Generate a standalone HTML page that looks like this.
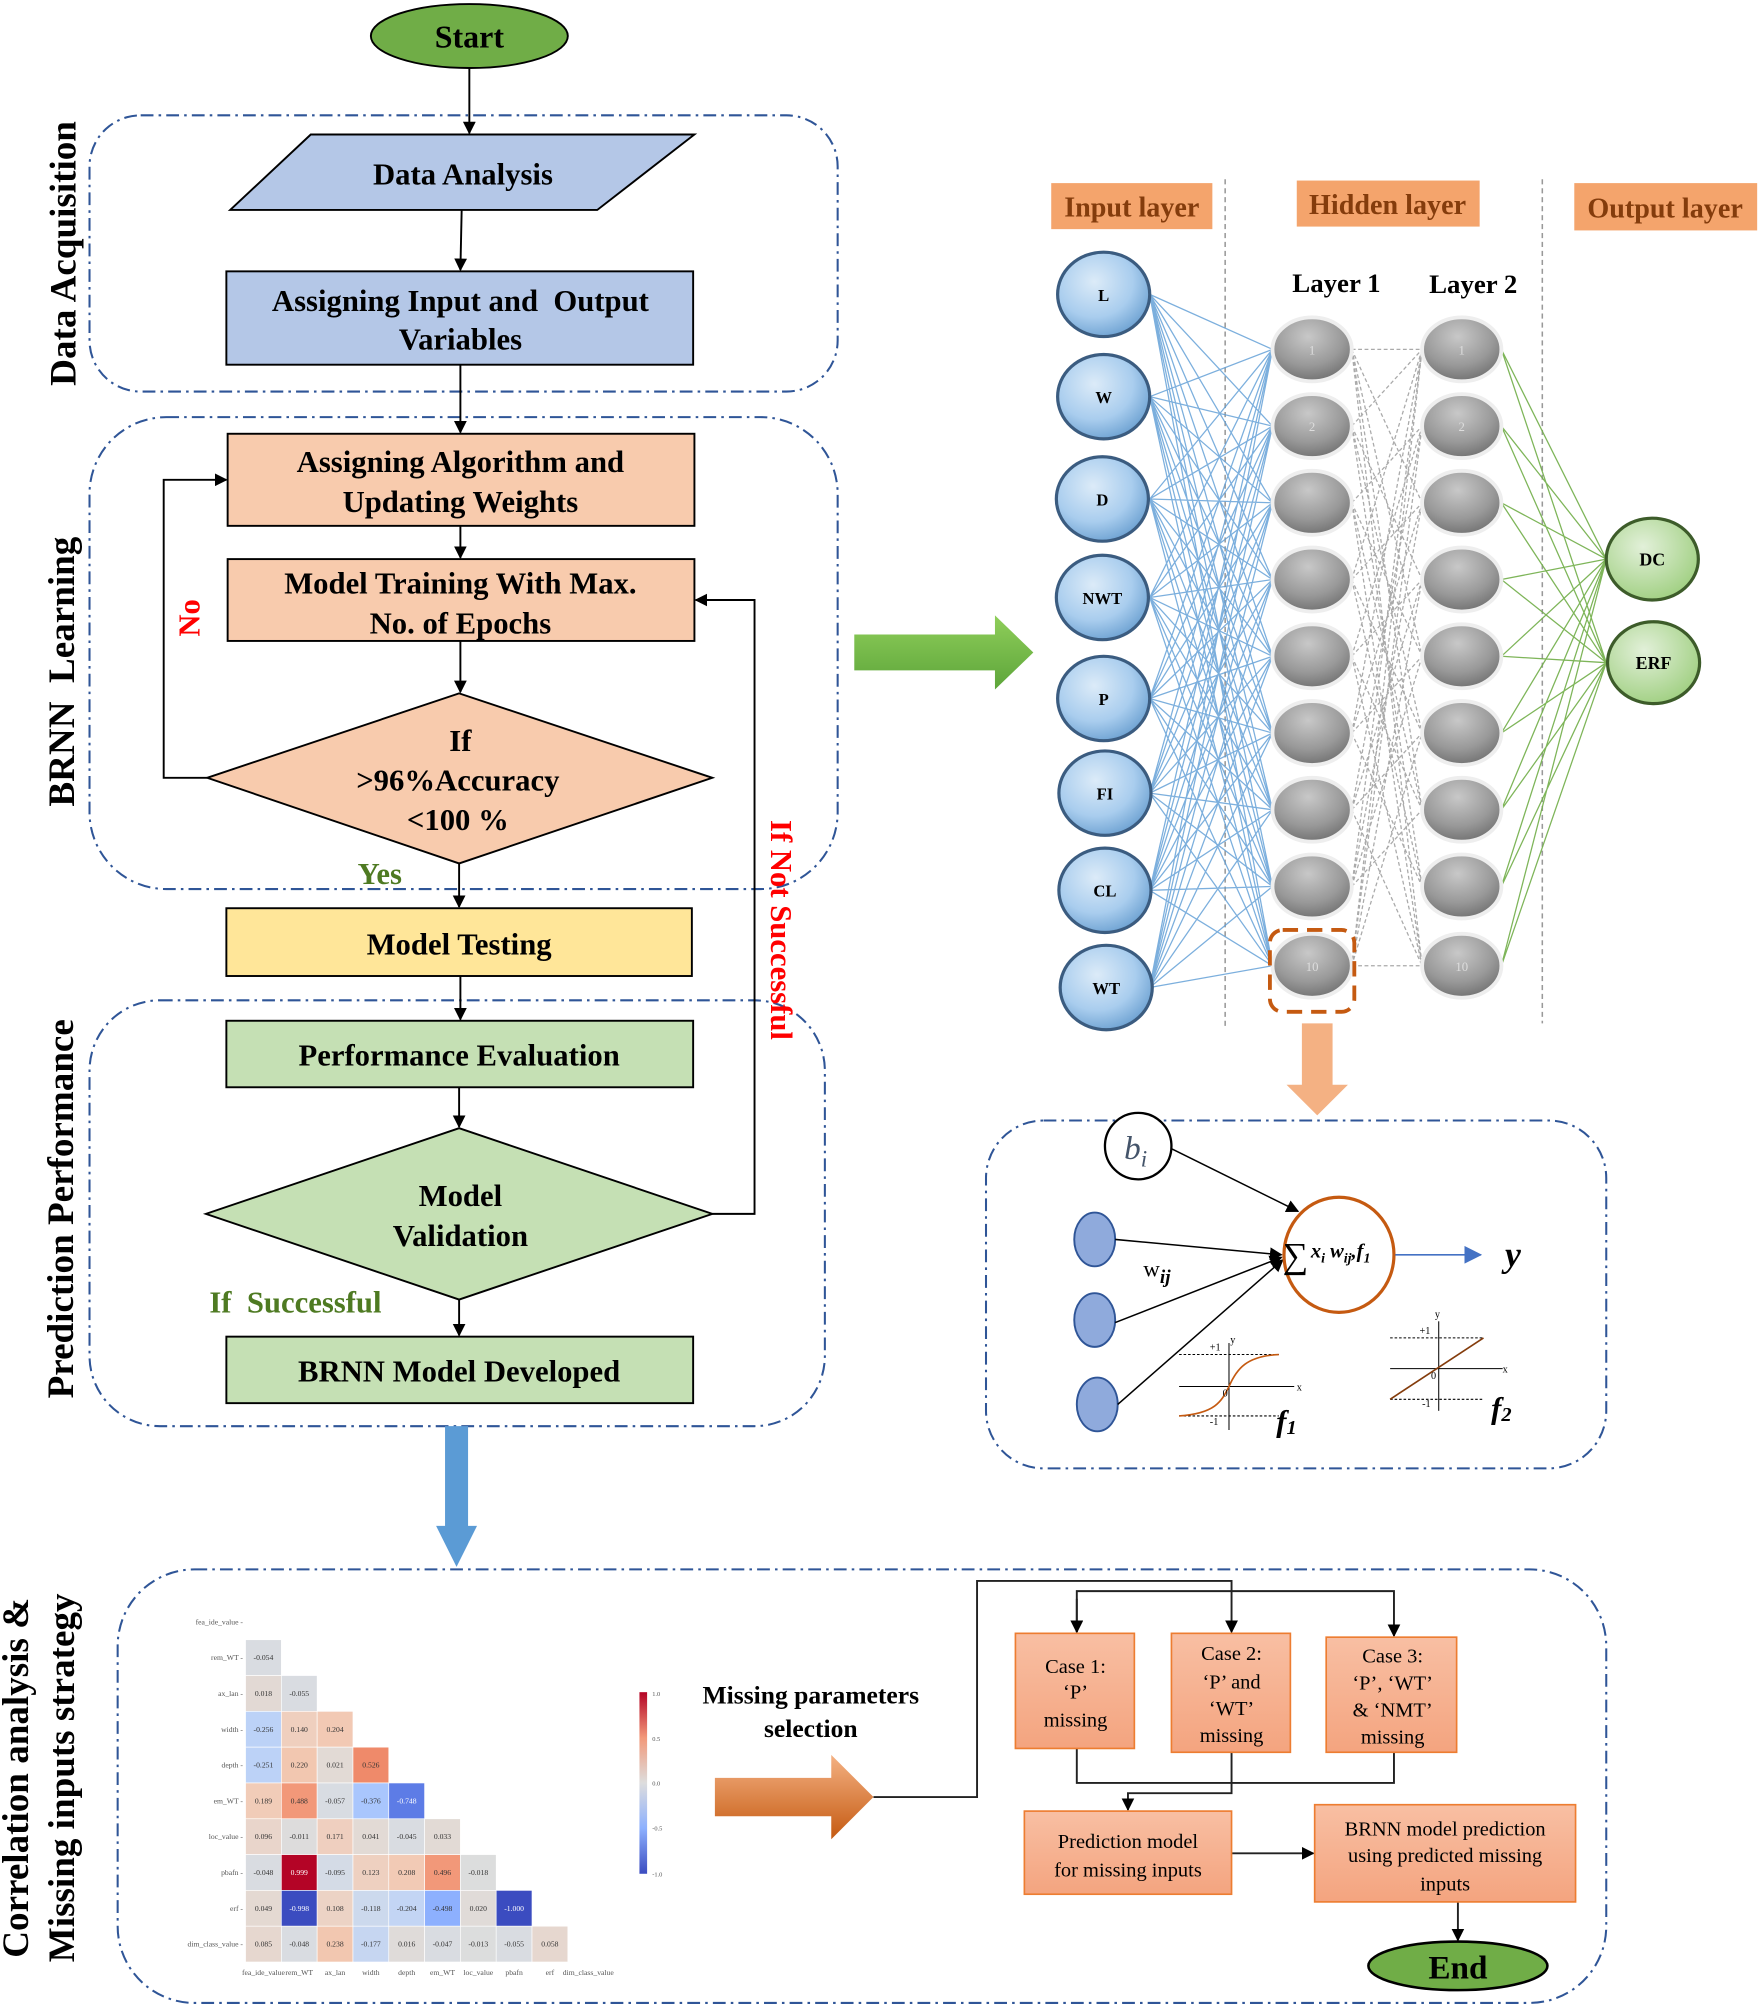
<!DOCTYPE html>
<html><head><meta charset="utf-8"><style>
html,body{margin:0;padding:0;background:#fff;}
svg{display:block;}
text{font-family:"Liberation Serif",serif;}
</style></head><body>
<svg width="1761" height="2007" viewBox="0 0 1377 1569" xmlns="http://www.w3.org/2000/svg">
<defs>
<marker id="ah" markerWidth="10" markerHeight="10" refX="9" refY="5" orient="auto" markerUnits="userSpaceOnUse"><path d="M0,0 L10,5 L0,10 z" fill="#000"/></marker>
<marker id="ahb" markerWidth="10" markerHeight="10" refX="9" refY="5" orient="auto" markerUnits="userSpaceOnUse"><path d="M0,0 L10,5 L0,10 z" fill="#5b9bd5"/></marker>
<marker id="ahg" markerWidth="10" markerHeight="10" refX="9" refY="5" orient="auto" markerUnits="userSpaceOnUse"><path d="M0,0 L10,5 L0,10 z" fill="#70ad47"/></marker>
<marker id="ahy" markerWidth="14" markerHeight="14" refX="13" refY="7" orient="auto" markerUnits="userSpaceOnUse"><path d="M0,0 L14,7 L0,14 z" fill="#4472c4"/></marker>
<radialGradient id="gin" cx="40%" cy="35%" r="70%"><stop offset="0" stop-color="#dcebf8"/><stop offset="0.6" stop-color="#a9cdee"/><stop offset="1" stop-color="#6a9fd0"/></radialGradient>
<radialGradient id="gh" cx="45%" cy="30%" r="75%"><stop offset="0" stop-color="#c8c8c8"/><stop offset="0.6" stop-color="#999"/><stop offset="1" stop-color="#6c6c6c"/></radialGradient>
<radialGradient id="gout" cx="40%" cy="35%" r="70%"><stop offset="0" stop-color="#e2f0d9"/><stop offset="1" stop-color="#9fcf80"/></radialGradient>
<linearGradient id="gor" x1="0" y1="0" x2="0" y2="1"><stop offset="0" stop-color="#f4b183"/><stop offset="1" stop-color="#c55a11"/></linearGradient>
<linearGradient id="ggr" x1="0" y1="0" x2="0" y2="1"><stop offset="0" stop-color="#8fce5a"/><stop offset="1" stop-color="#5da53a"/></linearGradient>
<linearGradient id="gcase" x1="0" y1="0" x2="0" y2="1"><stop offset="0" stop-color="#f8bfa3"/><stop offset="1" stop-color="#f4a47f"/></linearGradient>
</defs>

<!-- dash-dot containers -->
<g fill="none" stroke="#2f5597" stroke-width="1.6" stroke-dasharray="10,4,2,4">
<rect x="70" y="90" width="585" height="216" rx="40"/>
<rect x="70" y="326" width="585" height="369" rx="60"/>
<rect x="70" y="782" width="575" height="333" rx="55"/>
<rect x="771" y="876" width="485" height="272" rx="45"/>
<rect x="92" y="1227" width="1164" height="339" rx="60"/>
</g>

<!-- side labels -->
<g font-weight="bold" font-size="29" fill="#000" text-anchor="middle">
<text transform="translate(59,198) rotate(-90)">Data Acquisition</text>
<text transform="translate(58,525) rotate(-90)" xml:space="preserve">BRNN  Learning</text>
<text transform="translate(57,945) rotate(-90)">Prediction Performance</text>
<text transform="translate(22,1390) rotate(-90)">Correlation analysis &amp;</text>
<text transform="translate(58,1390) rotate(-90)">Missing inputs strategy</text>
</g>

<!-- flowchart -->
<ellipse cx="367" cy="28" rx="77" ry="25" fill="#70ad47" stroke="#000" stroke-width="1.5"/>
<text x="367" y="37" text-anchor="middle" font-size="25" font-weight="bold">Start</text>
<line x1="367" y1="53" x2="367" y2="104" stroke="#000" stroke-width="1.5" marker-end="url(#ah)"/>
<polygon points="180,164 243,105 543,105 467,164" fill="#b4c7e7" stroke="#000" stroke-width="1.5"/>
<text x="362" y="144" text-anchor="middle" font-size="24" font-weight="bold">Data Analysis</text>
<line x1="361" y1="164" x2="360" y2="211" stroke="#000" stroke-width="1.5" marker-end="url(#ah)"/>
<rect x="177" y="212" width="365" height="73" fill="#b4c7e7" stroke="#000" stroke-width="1.5"/>
<text x="360" y="243" text-anchor="middle" font-size="24" font-weight="bold" xml:space="preserve">Assigning Input and  Output</text>
<text x="360" y="273" text-anchor="middle" font-size="24" font-weight="bold">Variables</text>
<line x1="360" y1="285" x2="360" y2="338" stroke="#000" stroke-width="1.5" marker-end="url(#ah)"/>
<rect x="178" y="339" width="365" height="72" fill="#f8cbad" stroke="#000" stroke-width="1.5"/>
<text x="360" y="369" text-anchor="middle" font-size="24" font-weight="bold">Assigning Algorithm and</text>
<text x="360" y="400" text-anchor="middle" font-size="24" font-weight="bold">Updating Weights</text>
<line x1="360" y1="411" x2="360" y2="436" stroke="#000" stroke-width="1.5" marker-end="url(#ah)"/>
<rect x="178" y="437" width="365" height="64" fill="#f8cbad" stroke="#000" stroke-width="1.5"/>
<text x="360" y="464" text-anchor="middle" font-size="24" font-weight="bold">Model Training With Max.</text>
<text x="360" y="495" text-anchor="middle" font-size="24" font-weight="bold">No. of Epochs</text>
<line x1="360" y1="501" x2="360" y2="541" stroke="#000" stroke-width="1.5" marker-end="url(#ah)"/>
<polygon points="162,608 359,542 557,608 359,675" fill="#f8cbad" stroke="#000" stroke-width="1.5"/>
<text x="360" y="587" text-anchor="middle" font-size="24" font-weight="bold">If</text>
<text x="358" y="618" text-anchor="middle" font-size="24" font-weight="bold">&gt;96%Accuracy</text>
<text x="358" y="649" text-anchor="middle" font-size="24" font-weight="bold">&lt;100 %</text>
<polyline points="162,608 128,608 128,375 177,375" fill="none" stroke="#000" stroke-width="1.5" marker-end="url(#ah)"/>
<text transform="translate(156,483) rotate(-90)" text-anchor="middle" font-size="24" font-weight="bold" fill="#ff0000">No</text>
<text x="297" y="691" text-anchor="middle" font-size="24" font-weight="bold" fill="#4e7a22">Yes</text>
<line x1="359" y1="675" x2="359" y2="709" stroke="#000" stroke-width="1.5" marker-end="url(#ah)"/>
<rect x="177" y="710" width="364" height="53" fill="#ffe699" stroke="#000" stroke-width="1.5"/>
<text x="359" y="746" text-anchor="middle" font-size="24" font-weight="bold">Model Testing</text>
<line x1="360" y1="763" x2="360" y2="797" stroke="#000" stroke-width="1.5" marker-end="url(#ah)"/>
<rect x="177" y="798" width="365" height="52" fill="#c5e0b4" stroke="#000" stroke-width="1.5"/>
<text x="359" y="833" text-anchor="middle" font-size="24" font-weight="bold">Performance Evaluation</text>
<line x1="359" y1="850" x2="359" y2="881" stroke="#000" stroke-width="1.5" marker-end="url(#ah)"/>
<polygon points="161,949 359,882 557,949 359,1016" fill="#c5e0b4" stroke="#000" stroke-width="1.5"/>
<text x="360" y="943" text-anchor="middle" font-size="24" font-weight="bold">Model</text>
<text x="360" y="974" text-anchor="middle" font-size="24" font-weight="bold">Validation</text>
<polyline points="557,949 590,949 590,469 544,469" fill="none" stroke="#000" stroke-width="1.5" marker-end="url(#ah)"/>
<text transform="translate(603,727) rotate(90)" text-anchor="middle" font-size="24" font-weight="bold" fill="#ff0000">If Not Successful</text>
<text x="231" y="1026" text-anchor="middle" font-size="24" font-weight="bold" fill="#4e7a22" xml:space="preserve">If  Successful</text>
<line x1="359" y1="1016" x2="359" y2="1044" stroke="#000" stroke-width="1.5" marker-end="url(#ah)"/>
<rect x="177" y="1045" width="365" height="52" fill="#c5e0b4" stroke="#000" stroke-width="1.5"/>
<text x="359" y="1080" text-anchor="middle" font-size="24" font-weight="bold">BRNN Model Developed</text>

<!-- big arrows -->
<polygon points="348,1115 366,1115 366,1193 373,1193 357,1225 341,1193 348,1193" fill="#5b9bd5"/>
<polygon points="668,496 778,496 778,481 808,510 778,539 778,524 668,524" fill="url(#ggr)"/>
<polygon points="1018,800 1042,800 1042,848 1054,848 1030,872 1006,848 1018,848" fill="#f4b183"/>

<!-- network -->
<g stroke="#999" stroke-width="1.2" stroke-dasharray="4,3">
<line x1="958" y1="140" x2="958" y2="805"/>
<line x1="1206" y1="140" x2="1206" y2="800"/>
</g>
<rect x="822" y="143" width="126" height="36" fill="#f4a46c"/>
<rect x="1014" y="141" width="143" height="36" fill="#f4a46c"/>
<rect x="1231" y="143" width="143" height="37" fill="#f4a46c"/>
<g font-size="22" font-weight="bold" fill="#843c0c" text-anchor="middle">
<text x="885" y="169">Input layer</text>
<text x="1085" y="167">Hidden layer</text>
<text x="1302" y="170">Output layer</text>
</g>
<text x="1045" y="228" text-anchor="middle" font-size="21" font-weight="bold">Layer 1</text>
<text x="1152" y="229" text-anchor="middle" font-size="21" font-weight="bold">Layer 2</text>

<g id="conn1" stroke="#5b9bd5" stroke-width="1" opacity="0.85">
</g>
<g id="net"></g>

<!-- input to L1 lines -->
<g stroke="#5b9bd5" stroke-width="1" opacity="0.8" fill="none">
<path d="M899,230L995,273M899,230L995,333M899,230L995,393M899,230L995,453M899,230L995,513M899,230L995,573M899,230L995,633M899,230L995,693M899,230L995,755
M899,310L995,273M899,310L995,333M899,310L995,393M899,310L995,453M899,310L995,513M899,310L995,573M899,310L995,633M899,310L995,693M899,310L995,755
M899,390L995,273M899,390L995,333M899,390L995,393M899,390L995,453M899,390L995,513M899,390L995,573M899,390L995,633M899,390L995,693M899,390L995,755
M899,467L995,273M899,467L995,333M899,467L995,393M899,467L995,453M899,467L995,513M899,467L995,573M899,467L995,633M899,467L995,693M899,467L995,755
M899,546L995,273M899,546L995,333M899,546L995,393M899,546L995,453M899,546L995,513M899,546L995,573M899,546L995,633M899,546L995,693M899,546L995,755
M899,620L995,273M899,620L995,333M899,620L995,393M899,620L995,453M899,620L995,513M899,620L995,573M899,620L995,633M899,620L995,693M899,620L995,755
M899,696L995,273M899,696L995,333M899,696L995,393M899,696L995,453M899,696L995,513M899,696L995,573M899,696L995,633M899,696L995,693M899,696L995,755
M899,772L995,273M899,772L995,333M899,772L995,393M899,772L995,453M899,772L995,513M899,772L995,573M899,772L995,633M899,772L995,693M899,772L995,755"/>
</g>
<!-- L1 to L2 dashed -->
<g stroke="#aaa" stroke-width="1" stroke-dasharray="3,2" fill="none">
<path d="M1057,273L1112,273M1057,273L1112,393M1057,273L1112,513M1057,273L1112,633M1057,273L1112,755
M1057,333L1112,273M1057,333L1112,453M1057,333L1112,573M1057,333L1112,693
M1057,393L1112,333M1057,393L1112,513M1057,393L1112,633M1057,393L1112,755
M1057,453L1112,273M1057,453L1112,393M1057,453L1112,573M1057,453L1112,693
M1057,513L1112,333M1057,513L1112,453M1057,513L1112,633M1057,513L1112,755
M1057,573L1112,273M1057,573L1112,393M1057,573L1112,513M1057,573L1112,693
M1057,633L1112,333M1057,633L1112,453M1057,633L1112,573M1057,633L1112,755
M1057,693L1112,273M1057,693L1112,393M1057,693L1112,513M1057,693L1112,633
M1057,755L1112,755M1057,755L1112,333M1057,755L1112,453M1057,755L1112,573M1057,755L1112,273"/>
</g>
<!-- L2 to output -->
<g stroke="#70ad47" stroke-width="1" fill="none" opacity="0.9">
<path d="M1174,273L1256,437M1174,333L1256,437M1174,393L1256,437M1174,453L1256,437M1174,513L1256,437M1174,573L1256,437M1174,633L1256,437M1174,693L1256,437M1174,755L1256,437
M1174,273L1256,518M1174,333L1256,518M1174,393L1256,518M1174,453L1256,518M1174,513L1256,518M1174,573L1256,518M1174,633L1256,518M1174,693L1256,518M1174,755L1256,518"/>
</g>
<!-- input nodes -->
<g fill="url(#gin)" stroke="#3b5c80" stroke-width="2.5">
<ellipse cx="863" cy="230" rx="36" ry="33"/><ellipse cx="863" cy="310" rx="36" ry="33"/>
<ellipse cx="862" cy="390" rx="36" ry="33"/><ellipse cx="862" cy="467" rx="36" ry="33"/>
<ellipse cx="863" cy="546" rx="36" ry="33"/><ellipse cx="864" cy="620" rx="36" ry="33"/>
<ellipse cx="864" cy="696" rx="36" ry="33"/><ellipse cx="865" cy="772" rx="36" ry="33"/>
</g>
<g font-size="13" font-weight="bold" text-anchor="middle">
<text x="863" y="235">L</text><text x="863" y="315">W</text><text x="862" y="395">D</text>
<text x="862" y="472">NWT</text><text x="863" y="551">P</text><text x="864" y="625">FI</text>
<text x="864" y="701">CL</text><text x="865" y="777">WT</text>
</g>
<!-- hidden nodes -->
<g fill="url(#gh)" stroke="#eee" stroke-width="3">
<ellipse cx="1026" cy="273" rx="31" ry="25"/><ellipse cx="1026" cy="333" rx="31" ry="25"/>
<ellipse cx="1026" cy="393" rx="31" ry="25"/><ellipse cx="1026" cy="453" rx="31" ry="25"/>
<ellipse cx="1026" cy="513" rx="31" ry="25"/><ellipse cx="1026" cy="573" rx="31" ry="25"/>
<ellipse cx="1026" cy="633" rx="31" ry="25"/><ellipse cx="1026" cy="693" rx="31" ry="25"/>
<ellipse cx="1026" cy="755" rx="31" ry="25"/>
<ellipse cx="1143" cy="273" rx="31" ry="25"/><ellipse cx="1143" cy="333" rx="31" ry="25"/>
<ellipse cx="1143" cy="393" rx="31" ry="25"/><ellipse cx="1143" cy="453" rx="31" ry="25"/>
<ellipse cx="1143" cy="513" rx="31" ry="25"/><ellipse cx="1143" cy="573" rx="31" ry="25"/>
<ellipse cx="1143" cy="633" rx="31" ry="25"/><ellipse cx="1143" cy="693" rx="31" ry="25"/>
<ellipse cx="1143" cy="755" rx="31" ry="25"/>
</g>
<g font-size="10" fill="#ddd" text-anchor="middle">
<text x="1026" y="277">1</text><text x="1026" y="337">2</text><text x="1026" y="759">10</text>
<text x="1143" y="277">1</text><text x="1143" y="337">2</text><text x="1143" y="759">10</text>
</g>
<rect x="993" y="727" width="66" height="64" rx="10" fill="none" stroke="#c55a11" stroke-width="3" stroke-dasharray="12,7"/>
<g fill="url(#gout)" stroke="#3d5c2a" stroke-width="2.5">
<ellipse cx="1292" cy="437" rx="36" ry="32"/><ellipse cx="1293" cy="518" rx="36" ry="32"/>
</g>
<text x="1292" y="442" text-anchor="middle" font-size="14" font-weight="bold">DC</text>
<text x="1293" y="523" text-anchor="middle" font-size="14" font-weight="bold">ERF</text>

<!-- neuron -->
<circle cx="890" cy="896" r="26" fill="#fff" stroke="#000" stroke-width="1.8"/>
<text x="888" y="906" text-anchor="middle" font-size="26" font-style="italic" fill="#44546a">b<tspan font-size="18" dy="6">i</tspan></text>
<line x1="916" y1="898" x2="1015" y2="947" stroke="#000" stroke-width="1.2" marker-end="url(#ah)"/>
<g fill="#8faadc" stroke="#2f5597" stroke-width="1.5">
<ellipse cx="856" cy="969" rx="16" ry="21"/><ellipse cx="856" cy="1032" rx="16" ry="21"/><ellipse cx="858" cy="1098" rx="16" ry="21"/>
</g>
<g stroke="#000" stroke-width="1.2">
<line x1="872" y1="969" x2="1002" y2="981" marker-end="url(#ah)"/>
<line x1="872" y1="1034" x2="1002" y2="983" marker-end="url(#ah)"/>
<line x1="874" y1="1098" x2="1003" y2="985" marker-end="url(#ah)"/>
</g>
<text x="894" y="998" font-size="18" font-family="Liberation Sans,sans-serif">w<tspan font-size="15" font-weight="bold" font-style="italic" dy="5">ij</tspan></text>
<ellipse cx="1047" cy="981" rx="43" ry="45" fill="none" stroke="#c55a11" stroke-width="2.5"/>
<text x="1003" y="991" font-size="28">∑</text>
<text x="1025" y="983" font-size="16" font-weight="bold" font-style="italic">x<tspan font-size="11" dy="4">i</tspan><tspan dy="-4"> w</tspan><tspan font-size="11" dy="4">ij</tspan><tspan dy="-4">,f</tspan><tspan font-size="11" dy="4">1</tspan></text>
<line x1="1091" y1="981" x2="1158" y2="981" stroke="#4472c4" stroke-width="1.2" marker-end="url(#ahy)"/>
<text x="1183" y="990" text-anchor="middle" font-size="28" font-weight="bold" font-style="italic">y</text>
<!-- f1 -->
<g stroke="#000" stroke-width="0.8" fill="none">
<line x1="922" y1="1084" x2="1012" y2="1084"/><line x1="961" y1="1118" x2="961" y2="1050"/>
<line x1="922" y1="1059" x2="1000" y2="1059" stroke-dasharray="2,1.5"/>
<line x1="922" y1="1107" x2="1000" y2="1107" stroke-dasharray="2,1.5"/>
<line x1="1087" y1="1070" x2="1175" y2="1070"/><line x1="1125" y1="1103" x2="1125" y2="1033"/>
<line x1="1087" y1="1046" x2="1160" y2="1046" stroke-dasharray="2,1.5"/>
<line x1="1087" y1="1094" x2="1160" y2="1094" stroke-dasharray="2,1.5"/>
</g>
<path d="M922,1107 C950,1105 955,1096 961,1084 C967,1070 975,1060 1000,1059" stroke="#c55a11" stroke-width="1.3" fill="none"/>
<line x1="1087" y1="1094" x2="1160" y2="1046" stroke="#843c0c" stroke-width="1.3"/>
<g font-size="8">
<text x="946" y="1056">+1</text><text x="956" y="1092">0</text><text x="946" y="1114">-1</text><text x="962" y="1050">y</text><text x="1014" y="1087">x</text>
<text x="1110" y="1043">+1</text><text x="1119" y="1078">0</text><text x="1112" y="1100">-1</text><text x="1122" y="1030">y</text><text x="1175" y="1073">x</text>
</g>
<text x="998" y="1119" font-size="24" font-weight="bold" font-style="italic">f<tspan font-size="16" dy="2">1</tspan></text>
<text x="1166" y="1109" font-size="24" font-weight="bold" font-style="italic">f<tspan font-size="16" dy="2">2</tspan></text>

<!-- heatmap -->
<g stroke="#fff" stroke-width="0.5">
<rect x="192" y="1282" width="28" height="28" fill="#d9dce1"/>
<rect x="192" y="1310" width="28" height="28" fill="#e2d9d4"/><rect x="220" y="1310" width="28" height="28" fill="#d9dce1"/>
<rect x="192" y="1338" width="28" height="28" fill="#bcd2f7"/><rect x="220" y="1338" width="28" height="28" fill="#efcfbe"/><rect x="248" y="1338" width="28" height="28" fill="#f2c9b4"/>
<rect x="192" y="1366" width="28" height="28" fill="#bcd2f7"/><rect x="220" y="1366" width="28" height="28" fill="#f2c7b0"/><rect x="248" y="1366" width="28" height="28" fill="#e2dad5"/><rect x="276" y="1366" width="28" height="28" fill="#ef8a6a"/>
<rect x="192" y="1394" width="28" height="28" fill="#f1ccb8"/><rect x="220" y="1394" width="28" height="28" fill="#f29879"/><rect x="248" y="1394" width="28" height="28" fill="#d8dce2"/><rect x="276" y="1394" width="28" height="28" fill="#a9c6fd"/><rect x="304" y="1394" width="28" height="28" fill="#5d7ce6"/>
<rect x="192" y="1422" width="28" height="28" fill="#e9d5cb"/><rect x="220" y="1422" width="28" height="28" fill="#dddcdc"/><rect x="248" y="1422" width="28" height="28" fill="#efcfbf"/><rect x="276" y="1422" width="28" height="28" fill="#e2dad5"/><rect x="304" y="1422" width="28" height="28" fill="#d9dce1"/><rect x="332" y="1422" width="28" height="28" fill="#e2dad5"/>
<rect x="192" y="1450" width="28" height="28" fill="#d9dce1"/><rect x="220" y="1450" width="28" height="28" fill="#b40426"/><rect x="248" y="1450" width="28" height="28" fill="#d4dbe6"/><rect x="276" y="1450" width="28" height="28" fill="#eed0c0"/><rect x="304" y="1450" width="28" height="28" fill="#f2cab5"/><rect x="332" y="1450" width="28" height="28" fill="#f29879"/><rect x="360" y="1450" width="28" height="28" fill="#dcdddd"/>
<rect x="192" y="1478" width="28" height="28" fill="#e4d9d2"/><rect x="220" y="1478" width="28" height="28" fill="#3b4cc0"/><rect x="248" y="1478" width="28" height="28" fill="#ecd3c5"/><rect x="276" y="1478" width="28" height="28" fill="#ccd9ed"/><rect x="304" y="1478" width="28" height="28" fill="#c3d5f4"/><rect x="332" y="1478" width="28" height="28" fill="#8db0fe"/><rect x="360" y="1478" width="28" height="28" fill="#e0dbd8"/><rect x="388" y="1478" width="28" height="28" fill="#3b4cc0"/>
<rect x="192" y="1506" width="28" height="28" fill="#e6d7cf"/><rect x="220" y="1506" width="28" height="28" fill="#d9dce1"/><rect x="248" y="1506" width="28" height="28" fill="#f2c7b0"/><rect x="276" y="1506" width="28" height="28" fill="#c6d6f1"/><rect x="304" y="1506" width="28" height="28" fill="#dfdbd9"/><rect x="332" y="1506" width="28" height="28" fill="#d9dce1"/><rect x="360" y="1506" width="28" height="28" fill="#dcdddd"/><rect x="388" y="1506" width="28" height="28" fill="#d9dce1"/><rect x="416" y="1506" width="28" height="28" fill="#e6d7cf"/>
</g>
<g font-size="6" fill="#555" font-family="Liberation Sans,sans-serif" text-anchor="end">
<text x="190" y="1270">fea_ide_value -</text><text x="190" y="1298">rem_WT -</text><text x="190" y="1326">ax_lan -</text>
<text x="190" y="1354">width -</text><text x="190" y="1382">depth -</text><text x="190" y="1410">em_WT -</text>
<text x="190" y="1438">loc_value -</text><text x="190" y="1466">pbafn -</text><text x="190" y="1494">erf -</text><text x="190" y="1522">dim_class_value -</text>
</g>
<g font-size="6" fill="#555" font-family="Liberation Sans,sans-serif" text-anchor="middle">
<text x="206" y="1544">fea_ide_value</text><text x="234" y="1544">rem_WT</text><text x="262" y="1544">ax_lan</text><text x="290" y="1544">width</text><text x="318" y="1544">depth</text><text x="346" y="1544">em_WT</text><text x="374" y="1544">loc_value</text><text x="402" y="1544">pbafn</text><text x="430" y="1544">erf</text><text x="460" y="1544">dim_class_value</text>
</g>
<g font-size="6" fill="#333" font-family="Liberation Sans,sans-serif" text-anchor="middle">
<text x="206" y="1298">-0.054</text>
<text x="206" y="1326">0.018</text><text x="234" y="1326">-0.055</text>
<text x="206" y="1354">-0.256</text><text x="234" y="1354">0.140</text><text x="262" y="1354">0.204</text>
<text x="206" y="1382">-0.251</text><text x="234" y="1382">0.220</text><text x="262" y="1382">0.021</text><text x="290" y="1382">0.526</text>
<text x="206" y="1410">0.189</text><text x="234" y="1410">0.488</text><text x="262" y="1410">-0.057</text><text x="290" y="1410">-0.376</text><text x="318" y="1410" fill="#fff">-0.748</text>
<text x="206" y="1438">0.096</text><text x="234" y="1438">-0.011</text><text x="262" y="1438">0.171</text><text x="290" y="1438">0.041</text><text x="318" y="1438">-0.045</text><text x="346" y="1438">0.033</text>
<text x="206" y="1466">-0.048</text><text x="234" y="1466" fill="#fff">0.999</text><text x="262" y="1466">-0.095</text><text x="290" y="1466">0.123</text><text x="318" y="1466">0.208</text><text x="346" y="1466">0.496</text><text x="374" y="1466">-0.018</text>
<text x="206" y="1494">0.049</text><text x="234" y="1494" fill="#fff">-0.998</text><text x="262" y="1494">0.108</text><text x="290" y="1494">-0.118</text><text x="318" y="1494">-0.204</text><text x="346" y="1494">-0.498</text><text x="374" y="1494">0.020</text><text x="402" y="1494" fill="#fff">-1.000</text>
<text x="206" y="1522">0.085</text><text x="234" y="1522">-0.048</text><text x="262" y="1522">0.238</text><text x="290" y="1522">-0.177</text><text x="318" y="1522">0.016</text><text x="346" y="1522">-0.047</text><text x="374" y="1522">-0.013</text><text x="402" y="1522">-0.055</text><text x="430" y="1522">0.058</text>
</g>
<linearGradient id="cw" x1="0" y1="0" x2="0" y2="1"><stop offset="0" stop-color="#b40426"/><stop offset="0.25" stop-color="#f29879"/><stop offset="0.5" stop-color="#dddddd"/><stop offset="0.75" stop-color="#8db0fe"/><stop offset="1" stop-color="#3b4cc0"/></linearGradient>
<rect x="500" y="1323" width="6" height="142" fill="url(#cw)"/>
<g font-size="5" fill="#555" font-family="Liberation Sans,sans-serif"><text x="510" y="1326">1.0</text><text x="510" y="1361">0.5</text><text x="510" y="1396">0.0</text><text x="510" y="1431">-0.5</text><text x="510" y="1467">-1.0</text></g>

<text x="634" y="1332" text-anchor="middle" font-size="20" font-weight="bold">Missing parameters</text>
<text x="634" y="1358" text-anchor="middle" font-size="20" font-weight="bold">selection</text>
<polygon points="559,1390 650,1390 650,1372 683,1405 650,1438 650,1420 559,1420" fill="url(#gor)"/>

<g stroke="#222" stroke-width="1.5" fill="none">
<polyline points="683,1405 764,1405 764,1236 963,1236 963,1276" marker-end="url(#ah)"/>
<polyline points="842,1276 842,1244 1090,1244 1090,1279" marker-end="url(#ah)"/>
<polyline points="842,1367 842,1394 1090,1394 1090,1370"/>
<polyline points="963,1370 963,1402 882,1402 882,1415" marker-end="url(#ah)"/>
<line x1="963" y1="1449" x2="1027" y2="1449" marker-end="url(#ah)"/>
<line x1="1140" y1="1487" x2="1140" y2="1517" marker-end="url(#ah)"/>
</g>
<line x1="842" y1="1250" x2="842" y2="1276" stroke="#222" stroke-width="1.5" marker-end="url(#ah)"/>
<g fill="url(#gcase)" stroke="#ed7d31" stroke-width="1.3">
<rect x="794" y="1277" width="93" height="90"/>
<rect x="916" y="1277" width="93" height="93"/>
<rect x="1037" y="1280" width="102" height="90"/>
<rect x="801" y="1416" width="162" height="65"/>
<rect x="1028" y="1411" width="204" height="76"/>
</g>
<g font-size="16" text-anchor="middle">
<text x="841" y="1308">Case 1:</text><text x="841" y="1328">‘P’</text><text x="841" y="1350">missing</text>
<text x="963" y="1298">Case 2:</text><text x="963" y="1320">‘P’ and</text><text x="963" y="1341">‘WT’</text><text x="963" y="1362">missing</text>
<text x="1089" y="1300">Case 3:</text><text x="1089" y="1321">‘P’, ‘WT’</text><text x="1089" y="1342">&amp; ‘NMT’</text><text x="1089" y="1363">missing</text>
<text x="882" y="1445">Prediction model</text><text x="882" y="1467">for missing inputs</text>
<text x="1130" y="1435">BRNN model prediction</text><text x="1130" y="1456">using predicted missing</text><text x="1130" y="1478">inputs</text>
</g>
<ellipse cx="1140" cy="1537" rx="70" ry="19" fill="#70ad47" stroke="#000" stroke-width="2"/>
<text x="1140" y="1547" text-anchor="middle" font-size="26" font-weight="bold">End</text>
</svg>
</body></html>
